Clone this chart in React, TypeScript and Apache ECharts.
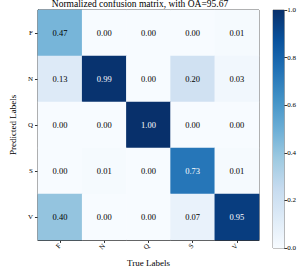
import React, { useEffect, useRef } from "react";
import * as echarts from "echarts";

const trueLabels = ["F", "N", "Q", "S", "V"];
const predLabels = ["F", "N", "Q", "S", "V"];
const rowF = [0.47, 0.0, 0.0, 0.0, 0.01];
const rowN = [0.13, 0.99, 0.0, 0.2, 0.03];
const rowQ = [0.0, 0.0, 1.0, 0.0, 0.0];
const rowS = [0.0, 0.01, 0.0, 0.73, 0.01];
const rowV = [0.4, 0.0, 0.0, 0.07, 0.95];
const matrix = [rowF, rowN, rowQ, rowS, rowV];
const colorbarTicks = [0, 0.2, 0.4, 0.6, 0.8, 1.0];
const titleText = "Normalized confusion matrix, with OA=95.67";

const blues = ["#f7fbff", "#deebf7", "#c6dbef", "#9ecae1", "#6baed6", "#4292c6", "#2171b5", "#08519c", "#08306b"];
const FONT = "Liberation Serif";

export default function App() {
  const ref = useRef<HTMLDivElement>(null);
  useEffect(() => {
    if (!ref.current) return;
    const chart = echarts.init(ref.current, null, { renderer: "svg" });
    const data: any[] = [];
    matrix.forEach((row, r) => {
      row.forEach((v, c) => {
        data.push({
          value: [c, r, v],
          label: { color: v > 0.5 ? "#ffffff" : "#000000", textBorderWidth: 0 },
        });
      });
    });
    const stops = blues.map((c, i) => ({ offset: i / (blues.length - 1), color: c }));
    chart.setOption({
      animation: false,
      textStyle: { fontFamily: FONT },
      title: {
        text: titleText,
        left: 140,
        textAlign: "center",
        top: -1,
        padding: 0,
        textStyle: { fontFamily: FONT, fontSize: 9.5, fontWeight: "normal", color: "#000" },
      },
      grid: [
        { left: 21, top: 10, width: 238, height: 238, show: true, borderColor: "#333", borderWidth: 1, backgroundColor: "transparent" },
        { left: 273, top: 10, width: 13, height: 238, show: true, borderColor: "#888", borderWidth: 1, backgroundColor: "transparent" },
      ],
      xAxis: [
        {
          type: "category",
          data: trueLabels,
          gridIndex: 0,
          position: "bottom",
          name: "True Labels",
          nameLocation: "middle",
          nameGap: 18,
          nameTextStyle: { fontFamily: FONT, fontSize: 9, color: "#000" },
          axisLine: { show: true, lineStyle: { color: "#333", width: 1 } },
          axisTick: { show: true, alignWithLabel: true, length: 3, lineStyle: { color: "#333" } },
          axisLabel: { rotate: 45, fontFamily: FONT, fontSize: 7, color: "#000", margin: 5 },
          splitLine: { show: false },
        },
        {
          type: "category",
          data: ["c"],
          gridIndex: 1,
          show: false,
        },
      ],
      yAxis: [
        {
          type: "category",
          data: predLabels,
          gridIndex: 0,
          inverse: true,
          name: "Predicted Labels",
          nameLocation: "middle",
          nameGap: 16,
          nameTextStyle: { fontFamily: FONT, fontSize: 9, color: "#000" },
          axisLine: { show: true, lineStyle: { color: "#333", width: 1 } },
          axisTick: { show: true, alignWithLabel: true, length: 3, lineStyle: { color: "#333" } },
          axisLabel: { fontFamily: FONT, fontSize: 7, color: "#000", margin: 5 },
          splitLine: { show: false },
        },
        {
          type: "value",
          gridIndex: 1,
          min: 0,
          max: 1,
          interval: 0.2,
          position: "right",
          axisLine: { show: false },
          axisTick: { show: true, length: 3, lineStyle: { color: "#333" } },
          axisLabel: {
            fontFamily: FONT,
            fontSize: 7,
            color: "#000",
            margin: 3,
            formatter: (v: number) => (colorbarTicks.some((t) => Math.abs(t - v) < 1e-6) ? v.toFixed(1) : ""),
          },
          splitLine: { show: false },
        },
      ],
      visualMap: {
        show: false,
        min: 0,
        max: 1,
        dimension: 2,
        seriesIndex: 0,
        inRange: { color: blues },
      },
      series: [
        {
          type: "heatmap",
          xAxisIndex: 0,
          yAxisIndex: 0,
          data,
          label: { show: true, fontFamily: FONT, fontSize: 8.5, textBorderWidth: 0, formatter: (p: any) => p.value[2].toFixed(2) },
          itemStyle: { borderWidth: 0 },
          emphasis: { disabled: true },
        },
        {
          type: "bar",
          xAxisIndex: 1,
          yAxisIndex: 1,
          data: [1],
          barWidth: "100%",
          itemStyle: { color: new echarts.graphic.LinearGradient(0, 1, 0, 0, stops) },
          silent: true,
        },
      ],
    });
    return () => chart.dispose();
  }, []);
  return <div ref={ref} style={{ position: "absolute", left: 0, top: 0, width: 299, height: 272 }} />;
}
